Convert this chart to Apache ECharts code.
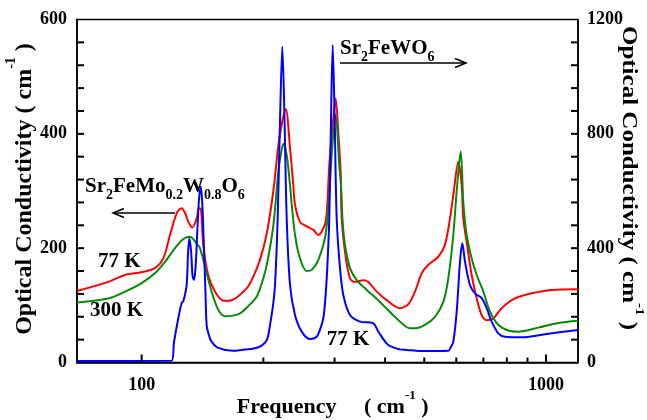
<!DOCTYPE html>
<html><head><meta charset="utf-8">
<script src="https://cdn.jsdelivr.net/npm/echarts@6/dist/echarts.min.js"></script>
<style>html,body{margin:0;padding:0;background:#fff}#c{width:647px;height:420px}</style>
</head><body><div id="c"></div>
<script>
// Sr2FeMo0.2W0.8O6, 77 K (left axis)
const redFreq = [69.2, 82.7, 91.0, 100, 107.8, 113.1, 117.5, 122.1, 125.6, 128.0, 130.4, 133.4, 136.8, 138.6, 140.2, 142.0, 146.1, 151.8, 159.2, 167.0, 181.9, 188.8, 196.2, 203.8, 211.7, 219.0, 227.2, 232.8, 237.2, 239.5, 246.4, 256.0, 265.9, 273.4, 278.8, 284.9, 287.8, 291.1, 296.8, 301.9, 306.3, 310.6, 312.4, 318.3, 327.6, 337.1, 353.3, 363.6, 381.4, 403.7, 435.5, 456.7, 474.3, 492.7, 511.6, 541.5, 562.6, 578.9, 589.9, 606.9, 618.7, 624.4, 636.5, 654.9, 674.0, 693.5, 713.3, 740.7, 777.0, 838.2, 921.8, 1032.9, 1200];
const redSigma = [125, 141, 153, 158, 165, 182, 223, 261, 270, 262, 246, 236, 252, 270, 268, 206, 153, 124, 108, 109, 130, 150, 180, 225, 300, 392, 443, 375, 310, 276, 246, 238, 232, 223, 229, 245, 276, 345, 415, 462, 404, 334, 252, 194, 147, 141, 144, 141, 124, 109, 95, 102, 124, 156, 171, 185, 206, 252, 293, 351, 310, 252, 211, 153, 112, 83, 74, 77, 95, 112, 121, 127, 128];
// Sr2FeMo0.2W0.8O6, 300 K (left axis)
const greenFreq = [69.2, 82.7, 91.0, 100, 107.8, 114.2, 120.9, 126.8, 131.7, 136.8, 139.4, 144.8, 150.3, 155.3, 160.7, 168.2, 175.1, 183.2, 192.5, 198.5, 203.8, 211.7, 217.8, 220.8, 224.2, 228.4, 232.8, 235.1, 239.5, 246.4, 256.0, 263.4, 273.4, 284.9, 291.1, 295.1, 301.9, 308.2, 311.2, 313.9, 318.3, 327.6, 340.3, 360.2, 388.6, 427.3, 461, 474.3, 502.1, 531.5, 557.2, 573.3, 589.9, 601.4, 615.2, 620.9, 624.4, 636.5, 654.9, 674.0, 699.9, 726.9, 762.1, 806.7, 854.1, 957, 1072.4, 1200];
const greenSigma = [105, 112, 124, 139, 156, 176, 200, 216, 220, 208, 200, 156, 115, 90, 81, 82, 86, 98, 115, 140, 170, 240, 334, 363, 383, 363, 310, 276, 223, 182, 160, 162, 179, 223, 293, 363, 433, 345, 310, 250, 206, 165, 144, 127, 106, 77, 60, 60, 66, 80, 106, 147, 223, 300, 369, 322, 281, 223, 182, 153, 124, 89, 66, 56, 54, 61, 69, 73];
// Sr2FeWO6, 77 K (right axis)
const blueFreq = [69.2, 118.6, 120.2, 123.2, 125.6, 126.8, 129.2, 130.2, 131.2, 132.5, 133.7, 134.7, 135.9, 137.4, 138.6, 140.0, 141.2, 142.6, 143.8, 144.8, 146.7, 148.9, 154.7, 168.2, 176.8, 190.7, 198.5, 204.2, 207.7, 211.3, 213.7, 217.0, 219.9, 222.8, 225.6, 228.4, 232.8, 239.5, 248.8, 260.9, 271.0, 276.1, 281.4, 284.9, 287.8, 291.1, 294.0, 296.8, 300.2, 303.6, 309.4, 315.3, 327.6, 346.7, 374.1, 384.9, 407.4, 435.5, 452.4, 488, 573.3, 582.2, 589.9, 601.4, 612.8, 620.9, 630.5, 648.6, 667.3, 693.5, 713.3, 733.9, 762.1, 791.7, 870.8, 994.3, 1200];
const blueSigma = [5, 6, 70, 155, 208, 215, 271, 380, 435, 390, 300, 289, 330, 470, 570, 615, 560, 400, 250, 131, 95, 73, 51, 41, 44, 50, 60, 80, 131, 200, 271, 506, 850, 1105, 850, 506, 271, 166, 108, 82, 90, 115, 155, 230, 331, 506, 850, 1111, 850, 506, 331, 236, 166, 143, 137, 108, 61, 46, 44, 40, 41, 55, 73, 178, 353, 417, 353, 271, 242, 225, 190, 143, 102, 90, 88, 99, 114];

// axis extents and tick values
const xMin = 69.2, xMax = 1200;
const xLabelValues = [100, 1000];
const xMajorTicks = [100, 1000];
const xMinorTicks = [200, 300, 400, 500, 600, 700, 800, 900];
const leftTicks = {min: 0, max: 600, interval: 200};
const rightTicks = {min: 0, max: 1200, interval: 400};
const leftTickValues = [40, 80, 120, 160, 200, 240, 280, 320, 360, 400, 440, 480, 520, 560];
const rightTickValues = [80, 160, 240, 320, 400, 480, 560, 640, 720, 800, 880, 960, 1040, 1120];

const FONT = '"Liberation Serif","Times New Roman",serif';
const chart = echarts.init(document.getElementById('c'));

function pairs(xs, ys) { return xs.map((x, i) => [x, ys[i]]); }
const plain = v => String(v);

const formulaRich = {
  m: {fontSize: 21, fontWeight: 'bold', fontFamily: FONT, color: '#000', verticalAlign: 'top'},
  s: {fontSize: 14, fontWeight: 'bold', fontFamily: FONT, color: '#000', verticalAlign: 'top', padding: [12, 0, 0, 0]}
};
function titleRich(fs, sfs, q) {
  return {
    t: {fontSize: fs, fontWeight: 'bold', fontFamily: FONT, color: '#000', verticalAlign: 'top', padding: [q, 0, 0, 0]},
    p: {fontSize: sfs, fontWeight: 'bold', fontFamily: FONT, color: '#000', verticalAlign: 'top'}
  };
}

function ls(w) { return {color: '#000', width: w}; }
function yLabel(margin) { return {margin: margin, fontSize: 18, fontWeight: 'bold', fontFamily: FONT, color: '#000', formatter: plain}; }

const annotations = [
  {type: 'text', x: 85, y: 176, z: 10, style: {text: '{m|Sr}{s|2}{m|FeMo}{s|0.2}{m|W}{s|0.8}{m|O}{s|6}', rich: formulaRich}},
  {type: 'text', x: 340, y: 38, z: 10, style: {text: '{m|Sr}{s|2}{m|FeWO}{s|6}', rich: formulaRich}},
  {type: 'text', x: 98, y: 251, z: 10, style: {text: '{m|77 K}', rich: formulaRich}},
  {type: 'text', x: 90, y: 300, z: 10, style: {text: '{m|300 K}', rich: formulaRich}},
  {type: 'text', x: 326.7, y: 329.5, z: 10, style: {text: '{m|77 K}', rich: formulaRich}},
  {type: 'polyline', z: 10, shape: {points: [[175, 213], [113, 213]]}, style: {stroke: '#000', lineWidth: 1.5, fill: null}},
  {type: 'polyline', z: 10, shape: {points: [[124, 208.5], [113, 213], [124, 217.5]]}, style: {stroke: '#000', lineWidth: 1.5, fill: null}},
  {type: 'polyline', z: 10, shape: {points: [[340, 63], [466, 63]]}, style: {stroke: '#000', lineWidth: 1.5, fill: null}},
  {type: 'polyline', z: 10, shape: {points: [[455, 58.5], [466, 63], [455, 67.5]]}, style: {stroke: '#000', lineWidth: 1.5, fill: null}},
  {type: 'text', x: 4.5, y: 189, rotation: Math.PI / 2, z: 10,
   style: {text: '{t|Optical Conductivity ( cm}{p|-1}{t| )}', rich: titleRich(24, 14, 8.5), align: 'center', verticalAlign: 'top'}},
  {type: 'text', x: 645.5, y: 178, rotation: -Math.PI / 2, scaleX: 1.25, z: 10,
   style: {text: '{t|Optical Conductivity ( cm}{p|-1}{t| )}', rich: titleRich(20, 12, 7), align: 'center', verticalAlign: 'top'}},
  {type: 'text', x: 236.7, y: 389, z: 10,
   style: {text: '{t|Frequency     ( cm}{p|-1}{t| )}', rich: titleRich(22, 13, 7.5), align: 'left', verticalAlign: 'top'}}
];

const option = {
  animation: false,
  backgroundColor: '#fff',
  grid: {left: 77, right: 69, top: 19.5, bottom: 57.5, show: true, borderColor: '#000', borderWidth: 1.5, backgroundColor: 'rgba(0,0,0,0)'},
  xAxis: {
    type: 'log', min: xMin, max: xMax,
    axisLine: {show: true, lineStyle: ls(1.5)},
    axisTick: {show: false},
    axisLabel: {margin: 14, fontSize: 18, fontWeight: 'bold', fontFamily: FONT, color: '#000', customValues: xLabelValues, formatter: plain},
    splitLine: {show: false}
  },
  yAxis: [{
    type: 'value', min: leftTicks.min, max: leftTicks.max, interval: leftTicks.interval,
    axisLine: {show: true, lineStyle: ls(1.5)},
    axisTick: {show: false},
    axisLabel: yLabel(10),
    splitLine: {show: false}
  }, {
    type: 'value', min: rightTicks.min, max: rightTicks.max, interval: rightTicks.interval,
    axisLine: {show: true, lineStyle: ls(1.5)},
    axisTick: {show: false},
    axisLabel: yLabel(9),
    splitLine: {show: false}
  }],
  series: [
    {name: '77 K', type: 'line', yAxisIndex: 0, data: pairs(redFreq, redSigma), showSymbol: false, smooth: 0.3,
     lineStyle: {color: '#ff0000', width: 2}, itemStyle: {color: '#ff0000'}},
    {name: '300 K', type: 'line', yAxisIndex: 0, data: pairs(greenFreq, greenSigma), showSymbol: false, smooth: 0.3,
     lineStyle: {color: '#078a07', width: 2}, itemStyle: {color: '#078a07'}},
    {name: 'Sr2FeWO6 77 K', type: 'line', yAxisIndex: 1, data: pairs(blueFreq, blueSigma), showSymbol: false, smooth: 0.3,
     lineStyle: {color: '#0000ff', width: 2}, itemStyle: {color: '#0000ff'}}
  ],
  graphic: annotations
};
chart.setOption(option);

// Tick marks: positions come from the chart's own axis scales (convertToPixel)
function tickLine(x1, y1, x2, y2) {
  return {type: 'line', z: 20, silent: true, shape: {x1: x1, y1: y1, x2: x2, y2: y2}, style: {stroke: '#000', lineWidth: 2}};
}
const yBottom = chart.convertToPixel({yAxisIndex: 0}, leftTicks.min);
const xLeft = chart.convertToPixel({xAxisIndex: 0}, xMin);
const xRight = chart.convertToPixel({xAxisIndex: 0}, xMax);
const ticks = [];
xMajorTicks.forEach(f => { const x = chart.convertToPixel({xAxisIndex: 0}, f); ticks.push(tickLine(x, yBottom, x, yBottom - 8)); });
xMinorTicks.forEach(f => { const x = chart.convertToPixel({xAxisIndex: 0}, f); ticks.push(tickLine(x, yBottom, x, yBottom - 5)); });
leftTickValues.forEach(v => { const y = chart.convertToPixel({yAxisIndex: 0}, v); ticks.push(tickLine(xLeft, y, xLeft + 7, y)); });
rightTickValues.forEach(v => { const y = chart.convertToPixel({yAxisIndex: 1}, v); ticks.push(tickLine(xRight, y, xRight - 7, y)); });
chart.setOption({graphic: annotations.concat(ticks)});
</script>
</body></html>
